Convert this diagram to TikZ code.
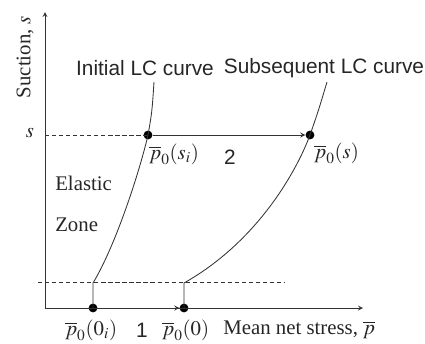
\documentclass[tikz,border=0pt]{standalone}
\usepackage{mathptmx}
\usepackage{fontspec}
\setmainfont{Liberation Serif}
\setsansfont{Liberation Sans}
\usetikzlibrary{arrows,positioning}

\begin{document}
\begin{tikzpicture}[
  x=0.025cm, y=-0.025cm,
  ball/.style={circle, fill=black, inner sep=0pt, minimum size=0.22cm},
  lbl/.style={font=\fontsize{14.8}{17}\selectfont, inner sep=0pt, text=black!85},
  tag/.style={font=\sffamily\fontsize{14.8}{17}\selectfont, inner sep=0pt, text=black!85},
  arrow/.style={->, >=stealth, draw=black!80, line width=0.6pt},
  guide/.style={draw=black!80, dash pattern=on 3pt off 2pt, line width=0.5pt},
  lc/.style={draw=black!80, line width=0.6pt}
]
  \useasboundingbox (0,0) rectangle (425,343);
  % axes
  \coordinate (O) at (45,308);
  \coordinate (ytop) at (45,12);
  \coordinate (xend) at (363,308);
  \coordinate (sl) at (45,135);
  \coordinate (kl) at (38,282);
  \coordinate (kr) at (285,282);
  \coordinate (ki) at (93,283);
  \coordinate (ks) at (184,283);
  \coordinate (ti) at (154,82);
  \coordinate (ts) at (327,82);
  \node[ball] (pi0) at (93,308) {};
  \node[ball] (p00) at (184,308) {};
  \node[ball] (pis) at (148,135) {};
  \node[ball] (pss) at (310,135) {};
  \draw[arrow] (O) -- (ytop);
  \draw[arrow] (O) -- (xend);
  \draw[guide] (sl) -- (pis.center);
  \draw[guide] (kl) -- (kr);
  % LC curves
  \draw[lc] (pi0.center) -- (ki) .. controls (116,245) and (140,170) .. (pis.center) .. controls (152,112) .. (ti);
  \draw[lc] (p00.center) -- (ks) .. controls (255,243) and (295,175) .. (pss.center) .. controls (318,112) .. (ts);
  \draw[arrow] (pi0) -- (p00);
  \draw[arrow] (pis) -- (pss);
  % labels
  \node[tag] (lci) at (145,68) {Initial LC curve};
  \node[tag] (lcs) at (324,68) {Subsequent LC curve};
  \node[lbl, anchor=west] (lpis) at (149,154) {$\overline{p}_0(s_i)$};
  \node[tag] (n2) at (230,157) {2};
  \node[lbl, anchor=west] (lpss) at (314,153) {$\overline{p}_0(s)$};
  \node[lbl, anchor=west] (el) at (55,183) {Elastic};
  \node[lbl, anchor=west] (zn) at (55,225) {Zone};
  \node[lbl] (sv) at (30,133) {$s$};
  \node[lbl, rotate=90] (ya) at (25,57) {Suction, $s$};
  \node[lbl, anchor=west] (lpi0) at (65,330) {$\overline{p}_0(0_i)$};
  \node[tag] (n1) at (142,330) {1};
  \node[lbl, anchor=west] (lp00) at (162,330) {$\overline{p}_0(0)$};
  \node[lbl, anchor=west] (xa) at (223,330) {Mean net stress, $\overline{p}$};
\end{tikzpicture}
\end{document}
